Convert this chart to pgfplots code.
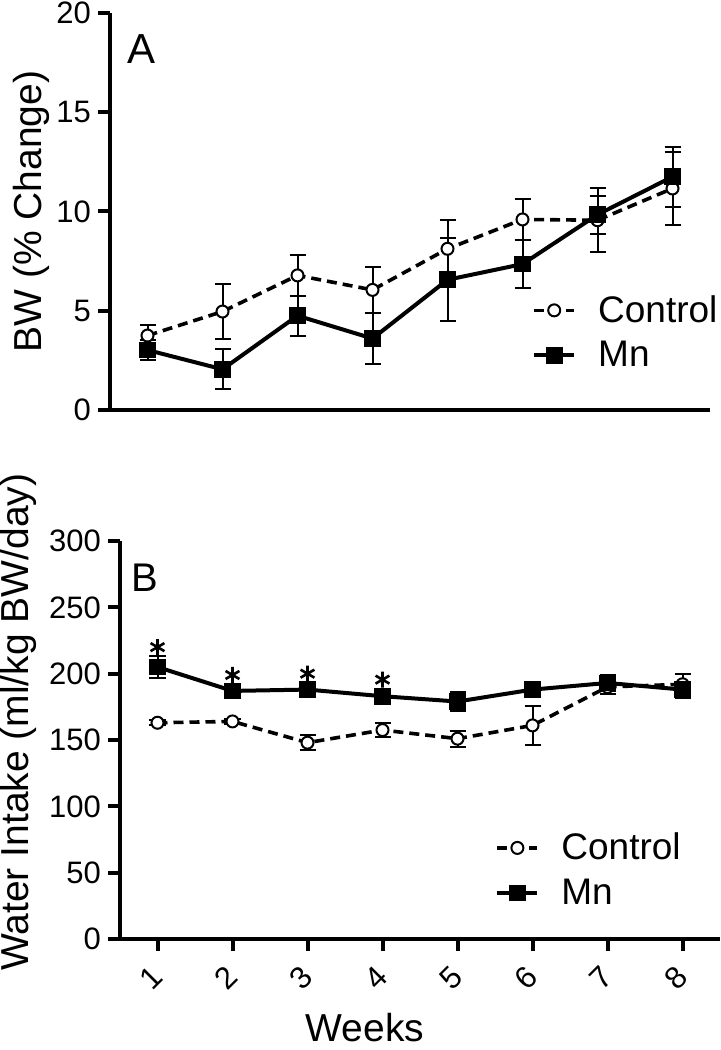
\documentclass[border=0pt]{standalone}
\usepackage{fontspec}
\setmainfont{Liberation Sans}
\usepackage{pgfplots}
\pgfplotsset{compat=1.18}
\begin{document}
\begin{tikzpicture}
\path[use as bounding box] (0,0) rectangle (360.5pt,525pt);
\pgfplotsset{
 common/.style={
  scale only axis, width=300pt,
  axis lines=left, axis line style={-, line width=2pt},
  xmin=0.5, xmax=8.5,
  tick align=outside, major tick length=6pt,
  tick style={line width=2pt, black},
  yticklabel={\fontsize{15.5}{18}\selectfont\pgfmathprintnumber[assume math mode=true]{\tick}},
  label style={font=\fontsize{19.5}{22}\selectfont},
  legend style={draw=none, fill=none, font=\fontsize{18.5}{21}\selectfont, anchor=west, inner sep=0pt, row sep=4pt,
    /tikz/every odd column/.style={column sep=9pt}},
  legend cell align=left,
  legend image code/.code={\draw[mark repeat=2, mark phase=2] plot coordinates {(0pt,0pt)(10pt,0pt)(20pt,0pt)};},
 },
 ctrl/.style={black, line width=1.8pt, dash pattern=on 5pt off 3pt, mark=*, mark size=3pt,
   mark options={solid, fill=white, line width=1pt},
   error bars/.cd, y dir=both, y explicit, error bar style={solid, line width=1pt},
   error mark options={rotate=90, mark size=4pt, line width=1pt, solid}},
 mn/.style={black, line width=2pt, mark=square*, mark size=3.2pt, mark options={solid},
   error bars/.cd, y dir=both, y explicit, error bar style={solid, line width=1pt},
   error mark options={rotate=90, mark size=4pt, line width=1pt, solid}},
}
% Panel A
\begin{axis}[common, at={(55pt,320pt)}, anchor=south west, height=198.5pt,
  ymin=0, ymax=20, ytick={0,5,10,15,20}, xtick=\empty,
  ylabel={BW (\% Change)},
  ylabel style={at={(rel axis cs:-0.1317,0.5)}, anchor=center},
  legend style={at={(rel axis cs:0.703,0.195)}}]
\addplot[ctrl] table[x=x, y=y, y error=e] {
x y e
1 3.75 0.55
2 4.96 1.40
3 6.78 1.05
4 6.05 1.15
5 8.12 1.45
6 9.60 1.05
7 9.56 1.60
8 11.16 1.85
};
\addlegendentry{Control}
\addplot[mn] table[x=x, y=y, y error=e] {
x y e
1 3.02 0.50
2 2.05 1.00
3 4.75 1.00
4 3.60 1.27
5 6.56 2.08
6 7.35 1.20
7 9.84 0.95
8 11.75 1.50
};
\addlegendentry{Mn}
\node[font=\fontsize{21}{24}\selectfont] at (rel axis cs:0.052,0.909) {A};
\end{axis}
% Panel B
\begin{axis}[common, at={(60pt,55.5pt)}, anchor=south west, height=199pt,
  ymin=0, ymax=300, ytick={0,50,...,300}, xtick={1,...,8},
  xticklabels={1,2,3,4,5,6,7,8},
  xticklabel style={font=\fontsize{15.5}{18}\selectfont, anchor=center, rotate=45, xshift=-11.7pt, yshift=-7.4pt},
  ylabel={Water Intake (ml/kg BW/day)},
  ylabel style={at={(rel axis cs:-0.17,0.545)}, anchor=center},
  xlabel={Weeks},
  xlabel style={at={(rel axis cs:0.408,-0.257)}, anchor=base},
  legend style={at={(rel axis cs:0.625,0.173)}}]
\addplot[ctrl] table[x=x, y=y, y error=e] {
x y e
1 163 2
2 164 2
3 148 5.5
4 157.5 5
5 151 6
6 161 15
7 190 5
8 192 8
};
\addlegendentry{Control}
\addplot[mn] table[x=x, y=y, y error=e] {
x y e
1 205 8
2 187 3
3 188 3.5
4 183 3
5 179 7
6 188 4
7 193 6
8 188 6
};
\addlegendentry{Mn}
\addplot[forget plot, only marks, mark=asterisk, mark size=4pt, mark options={line width=1.3pt}] coordinates {(1,220) (2,199) (3,200) (4,195.5)};
\node[font=\fontsize{20}{23}\selectfont] at (rel axis cs:0.042,0.907) {B};
\end{axis}
\end{tikzpicture}
\end{document}
